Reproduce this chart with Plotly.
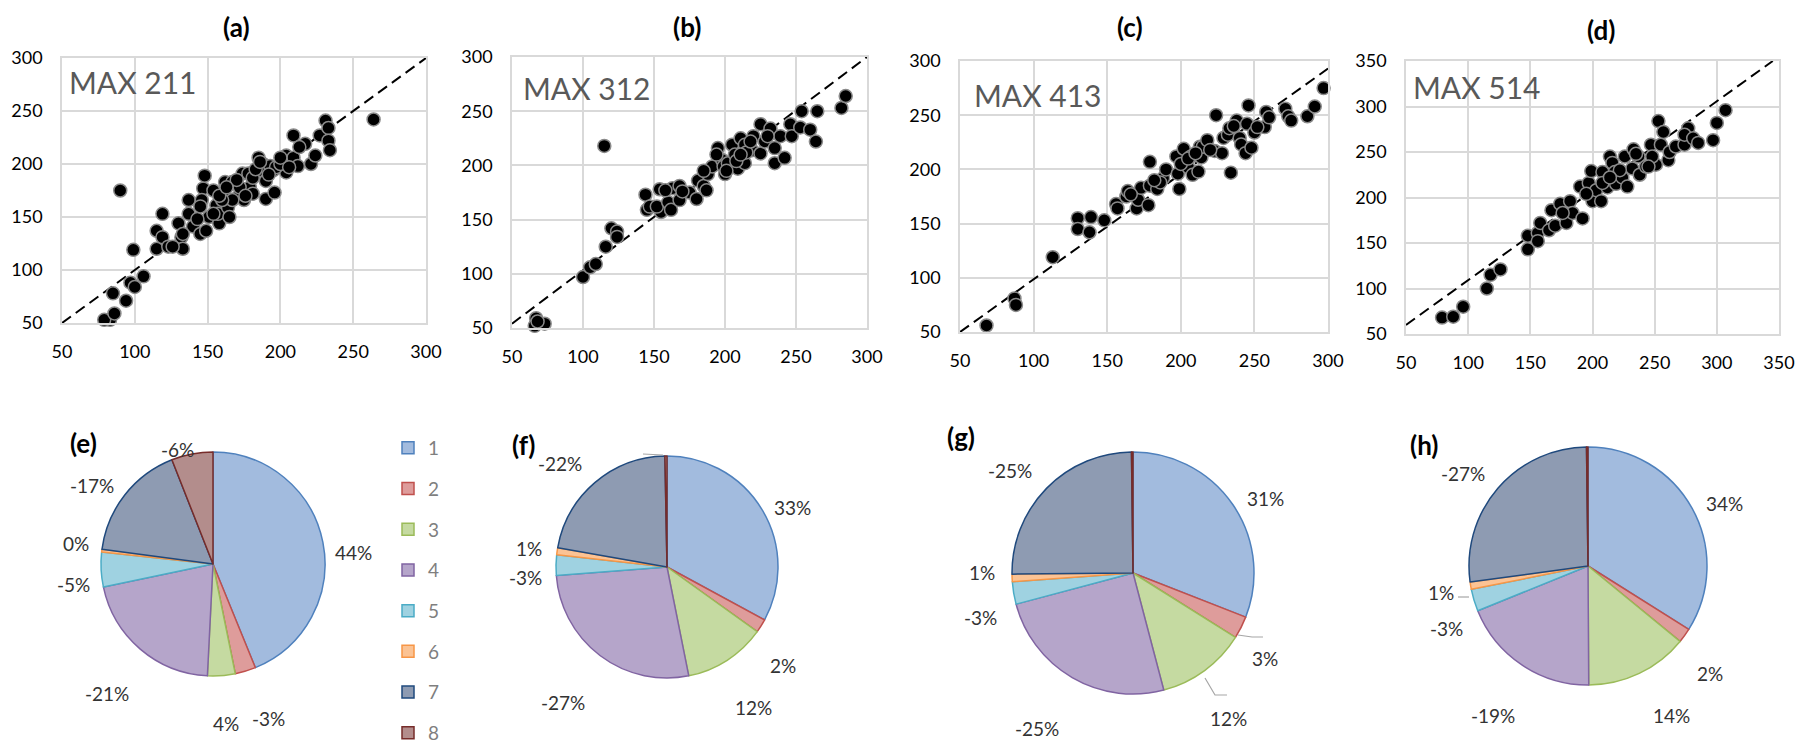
import plotly.graph_objects as go

W, H = 1816, 746

# ---------------- scatter data ----------------
a_x = [83, 79, 86, 85, 94, 97, 100, 106, 99, 90, 115, 119, 115, 119, 123, 130, 132, 133, 126, 137, 137, 140, 145,
       149, 147, 148, 146, 151, 156, 158, 157, 161, 162, 164, 165, 167, 171, 174, 175, 179, 181, 178, 185, 188, 185,
       190, 190, 195, 196, 193, 204, 204, 209, 209, 212, 217, 221, 224, 227, 231, 233, 233, 234, 264, 154, 133, 143,
       167, 172, 181, 197, 200, 206, 213, 160, 154, 170, 183, 186, 192, 158, 163, 145, 176, 200]
a_y = [53, 53, 59, 78, 71, 88, 84, 94, 119, 175, 137, 153, 120, 131, 122, 144, 131, 120, 122, 166, 153, 141, 134,
       137, 177, 189, 166, 150, 161, 144, 153, 172, 183, 159, 150, 183, 169, 191, 166, 178, 172, 191, 206, 200, 194,
       184, 167, 194, 173, 198, 192, 208, 227, 206, 198, 219, 200, 208, 227, 241, 234, 222, 213, 242, 175, 134, 148,
       166, 178, 187, 197, 200, 197, 216, 166, 153, 185, 195, 202, 190, 170, 178, 160, 170, 206]

b_x = [67, 66, 73, 68, 100, 105, 109, 116, 120, 124, 124, 115, 144, 145, 147, 154, 155, 152, 160, 163, 162, 168, 168,
       175, 180, 181, 185, 187, 188, 191, 195, 198, 199, 200, 202, 205, 207, 209, 211, 214, 214, 219, 220, 225, 225,
       228, 232, 235, 235, 239, 242, 246, 247, 253, 254, 260, 264, 265, 282, 285, 208, 215, 201, 170, 158, 185, 194,
       211, 230, 218]
b_y = [59, 52, 54, 56, 97, 106, 109, 125, 142, 139, 134, 218, 173, 159, 162, 178, 157, 162, 166, 179, 159, 181, 168,
       175, 169, 186, 181, 177, 192, 199, 216, 205, 199, 192, 202, 219, 210, 197, 225, 219, 202, 214, 227, 238, 211,
       222, 234, 216, 202, 227, 207, 238, 227, 235, 250, 233, 222, 250, 253, 264, 204, 212, 195, 176, 177, 195, 210,
       210, 227, 222]

c_x = [68, 87, 88, 113, 130, 130, 138, 139, 148, 156, 157, 163, 164, 170, 171, 173, 178, 179, 179, 184, 188, 190, 197,
       198, 199, 202, 205, 207, 208, 212, 213, 214, 215, 218, 223, 224, 228, 229, 232, 233, 234, 238, 240, 241, 244,
       245, 246, 248, 250, 257, 258, 260, 271, 273, 275, 286, 291, 297, 200, 205, 210, 186, 166, 182, 220, 236, 252]
c_y = [56, 81, 75, 119, 155, 145, 142, 156, 153, 168, 164, 175, 180, 164, 172, 183, 167, 207, 185, 182, 192, 200, 212,
       196, 182, 219, 202, 212, 195, 198, 221, 211, 221, 227, 217, 250, 215, 229, 232, 238, 197, 245, 229, 223, 215,
       242, 259, 220, 234, 239, 253, 248, 256, 249, 245, 249, 258, 275, 205, 210, 215, 188, 177, 190, 218, 240, 239]

d_x = [79, 88, 96, 115, 118, 126, 148, 148, 156, 158, 156, 165, 167, 170, 174, 179, 182, 184, 190, 192, 197, 199, 200,
       203, 207, 208, 212, 214, 216, 218, 219, 224, 226, 228, 232, 233, 237, 238, 243, 247, 251, 253, 255, 257, 261,
       262, 267, 274, 277, 274, 281, 285, 297, 300, 307, 248, 245, 208, 222, 195, 176, 214, 235]
d_y = [68, 69, 80, 100, 115, 121, 143, 158, 161, 172, 152, 164, 186, 169, 193, 172, 196, 183, 212, 177, 216, 229, 196,
       208, 196, 228, 211, 245, 238, 228, 215, 222, 245, 212, 232, 253, 245, 225, 234, 258, 236, 284, 258, 272, 241,
       250, 256, 258, 276, 269, 265, 260, 263, 282, 296, 245, 234, 216, 230, 204, 183, 222, 248]

# dashed reference lines (end points)
diag_x = [[50, 300], [50, 300], [50, 300], [50, 345]]
diag_y = [[50, 300], [54, 300], [50, 293], [60, 350]]

axis_max = [300, 300, 300, 350]
panel_titles = ["(a)", "(b)", "(c)", "(d)"]
max_labels = ["MAX 211", "MAX 312", "MAX 413", "MAX 514"]

# ---------------- pie data ----------------
categories = ["1", "2", "3", "4", "5", "6", "7", "8"]
pie_titles = ["(e)", "(f)", "(g)", "(h)"]
e_sizes = [44, 3, 4, 21, 5, 0.4, 17, 6]
e_text = ["44%", "-3%", "4%", "-21%", "-5%", "0%", "-17%", "-6%"]
f_sizes = [33, 2, 12, 27, 3, 1, 22, 0.3]
f_text = ["33%", "2%", "12%", "-27%", "-3%", "1%", "-22%", ""]
g_sizes = [31, 3, 12, 25, 3, 1, 25, 0.2]
g_text = ["31%", "3%", "12%", "-25%", "-3%", "1%", "-25%", ""]
h_sizes = [34, 2, 14, 19, 3, 1, 27, 0.2]
h_text = ["34%", "2%", "14%", "-19%", "-3%", "1%", "-27%", ""]

fill_colors = ["#A2BBDE", "#DE9C9B", "#C5DAA1", "#B5A5CA", "#9FD2E1", "#FBC394", "#8E9BB2", "#B38D8C"]
line_colors = ["#4F81BD", "#C0504D", "#9BBB59", "#8064A2", "#4BACC6", "#F79646", "#1F497D", "#772C2A"]

FONT = "Lato"

# ---------------- layout geometry (pixels) ----------------
sc_boxes = [(62, 426, 58, 323), (512, 867, 57, 328), (960, 1328, 61, 332), (1406, 1779, 61, 334)]
pie_geo = [(213, 564, 112), (667, 567, 111), (1133, 573, 121), (1588, 566, 119)]
title_pos = [(237, 27), (687, 27), (1130, 27), (1601, 30)]
max_pos = [(67, 82), (521, 88), (972, 95), (1411, 87)]
pie_title_pos = [(83, 443), (523, 445), (961, 437), (1424, 445)]
# label placement around each pie (Excel-style outside-end labels)
pie_label_pos = [
    [(353, 552), (268, 718), (226, 723), (107, 693), (73, 584), (76, 543), (92, 485), (177, 450)],
    [(792, 507), (783, 665), (753, 707), (563, 702), (525, 577), (529, 548), (560, 463), None],
    [(1265, 498), (1265, 658), (1228, 718), (1037, 728), (980, 617), (982, 572), (1010, 470), None],
    [(1724, 503), (1710, 673), (1671, 715), (1493, 715), (1446, 628), (1441, 592), (1463, 473), None],
]
leader_lines = [
    [(1238, 635), (1252, 637), (1263, 637)],
    [(1205, 678), (1215, 695), (1227, 695)],
    [(1458, 597), (1469, 597)],
    [(643, 454), (663, 455)],
]


def fx(px):
    return px / W


def fy(py):
    return 1 - py / H


fig = go.Figure()

xs = [a_x, b_x, c_x, d_x]
ys = [a_y, b_y, c_y, d_y]
layout_axes = {}
annotations = []
shapes = []
for i in range(4):
    sfx = "" if i == 0 else str(i + 1)
    xa, ya = "x" + sfx, "y" + sfx
    fig.add_trace(go.Scatter(x=diag_x[i], y=diag_y[i], mode="lines", xaxis=xa, yaxis=ya,
                             line=dict(color="black", width=2, dash="11px,6px"),
                             showlegend=False, hoverinfo="skip", cliponaxis=True))
    fig.add_trace(go.Scatter(x=xs[i], y=ys[i], mode="markers", xaxis=xa, yaxis=ya,
                             marker=dict(size=13, color="black", line=dict(color="#8a8a8a", width=1.5)),
                             showlegend=False, cliponaxis=False))
    x0, x1, y0, y1 = sc_boxes[i]
    common = dict(range=[50, axis_max[i]], tick0=50, dtick=50, showgrid=True, gridcolor="#D9D9D9", gridwidth=1.5,
                  showline=True, linecolor="#D9D9D9", linewidth=1.5, mirror=True, zeroline=False,
                  tickfont=dict(family=FONT, size=18, color="black"), fixedrange=True, automargin=False)
    layout_axes["xaxis" + sfx] = dict(domain=[fx(x0), fx(x1)], anchor=ya, ticklabelstandoff=12, **common)
    layout_axes["yaxis" + sfx] = dict(domain=[fy(y1), fy(y0)], anchor=xa, ticklabelstandoff=14, **common)
    annotations.append(dict(text="<b>" + panel_titles[i] + "</b>", x=fx(title_pos[i][0]), y=fy(title_pos[i][1]),
                            xref="paper", yref="paper", showarrow=False, xanchor="center", yanchor="middle",
                            font=dict(family=FONT, size=26, color="black")))
    annotations.append(dict(text=max_labels[i], x=fx(max_pos[i][0]), y=fy(max_pos[i][1]),
                            xref="paper", yref="paper", showarrow=False, xanchor="left", yanchor="middle",
                            font=dict(family=FONT, size=30, color="#595959")))

sizes = [e_sizes, f_sizes, g_sizes, h_sizes]
texts = [e_text, f_text, g_text, h_text]
for i in range(4):
    cx, cy, r = pie_geo[i]
    fig.add_trace(go.Pie(labels=categories, values=sizes[i], textinfo="none",
                         sort=False, direction="clockwise", rotation=0,
                         domain=dict(x=[fx(cx - r), fx(cx + r)], y=[fy(cy + r), fy(cy - r)]),
                         marker=dict(colors=fill_colors, line=dict(color=line_colors, width=1.5)),
                         showlegend=False))
    for k, t in enumerate(texts[i]):
        pos = pie_label_pos[i][k]
        if t and pos is not None:
            annotations.append(dict(text=t, x=fx(pos[0]), y=fy(pos[1]), xref="paper", yref="paper",
                                    showarrow=False, xanchor="center", yanchor="middle",
                                    font=dict(family=FONT, size=19, color="#333333")))
    annotations.append(dict(text="<b>" + pie_titles[i] + "</b>", x=fx(pie_title_pos[i][0]), y=fy(pie_title_pos[i][1]),
                            xref="paper", yref="paper", showarrow=False, xanchor="center", yanchor="middle",
                            font=dict(family=FONT, size=26, color="black")))

for ln in leader_lines:
    path = "M " + " L ".join("%.5f,%.5f" % (fx(p[0]), fy(p[1])) for p in ln)
    shapes.append(dict(type="path", path=path, xref="paper", yref="paper",
                       line=dict(color="#A6A6A6", width=1.2)))

# legend entries (category swatches)
for k, cat in enumerate(categories):
    fig.add_trace(go.Scatter(x=[None], y=[None], mode="markers", name=cat, legendgroup=cat,
                             marker=dict(symbol="square", size=12, color=fill_colors[k],
                                         line=dict(color=line_colors[k], width=1.5)),
                             showlegend=True))

fig.update_layout(
    width=W, height=H, margin=dict(l=0, r=0, t=0, b=0, autoexpand=False),
    paper_bgcolor="white", plot_bgcolor="white",
    font=dict(family=FONT),
    annotations=annotations,
    shapes=shapes,
    legend=dict(x=fx(388), y=fy(752), xanchor="left", yanchor="bottom", tracegroupgap=13,
                font=dict(family=FONT, size=19, color="#7f7f7f"), bgcolor="rgba(0,0,0,0)",
                itemsizing="trace"),
    **layout_axes,
)

fig.write_html("out.html")
